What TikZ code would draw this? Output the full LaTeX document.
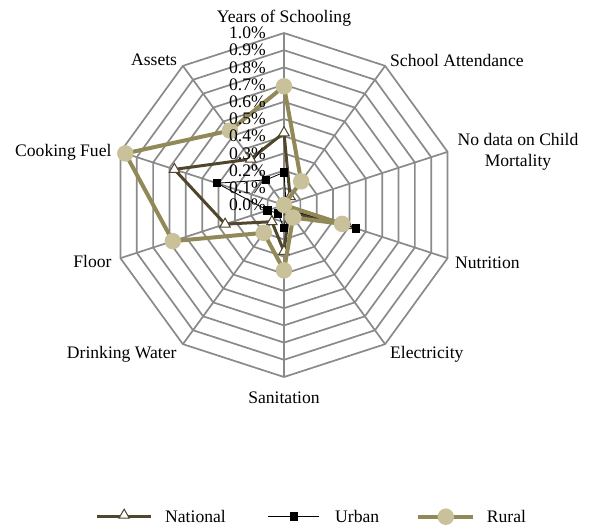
\documentclass[tikz,border=0pt]{standalone}
\usepackage{fontspec}
\setmainfont{Liberation Serif}
\usetikzlibrary{calc}
\usetikzlibrary{positioning}
\usetikzlibrary{shapes.geometric}
\definecolor{gridgray}{RGB}{138,138,138}
\definecolor{natcol}{RGB}{80,70,44}
\definecolor{rurcol}{RGB}{146,137,88}
\definecolor{rurfill}{RGB}{201,193,153}

\begin{document}
\begin{tikzpicture}[x=1pt, y=1pt, font=\fontsize{17.6}{20.5}\selectfont,
	gridline/.style={draw=gridgray, line width=1.7pt},
	natline/.style={draw=natcol, line width=3pt, line join=round},
	urbline/.style={draw=black, line width=0.8pt},
	rurline/.style={draw=rurcol, line width=4pt, line join=round},
	natmark/.style={regular polygon, regular polygon sides=3, draw=natcol, fill=white, line width=1pt, inner sep=0pt, minimum size=12pt},
	urbmark/.style={rectangle, fill=black, inner sep=0pt, minimum size=8.5pt},
	rurmark/.style={circle, fill=rurfill, inner sep=0pt, minimum size=16.5pt},
	lbl/.style={inner sep=0pt}]
	\useasboundingbox (-284,-323) rectangle (310,205);
	% web
	\coordinate (O) at (0,0);
	\foreach \k in {0,...,9}
		\coordinate (v\k) at ({90-36*\k}:172);
	\foreach \r in {1,...,10}
		\draw[gridline] (90:17.2*\r) \foreach \k in {1,...,9} { -- ({90-36*\k}:17.2*\r) } -- cycle;
	\foreach \k in {0,...,9}
		\draw[gridline] (O) -- (v\k);
	% axis names
	\node[lbl, anchor=base] (ys) at (0,183) {Years of Schooling};
	\node[lbl, anchor=base west] (sa) at (106,139) {School Attendance};
	\node[lbl, align=center] (cm) at (234,53) {No data on Child\\Mortality};
	\node[lbl, anchor=base west] (nu) at (171,-63.3) {Nutrition};
	\node[lbl, anchor=base west] (el) at (106,-153.3) {Electricity};
	\node[lbl, anchor=base] (sn) at (0,-198.3) {Sanitation};
	\node[lbl, anchor=base east] (dw) at (-107.3,-153.3) {Drinking Water};
	\node[lbl, anchor=base east] (fl) at (-172.3,-62.3) {Floor};
	\node[lbl, anchor=base east] (cf) at (-172.3,49) {Cooking Fuel};
	\node[lbl, anchor=base east] (as) at (-106.7,140) {Assets};
	% series
	\foreach \v [count=\k from 0] in {0.42,0.06,0,0.39,0.05,0.27,0.12,0.36,0.67,0.33}
		\coordinate (nat-\k) at ({90-36*\k}:{\v*172});
	\foreach \v [count=\k from 0] in {0.19,0.02,0,0.44,0.03,0.135,0.06,0.1,0.41,0.18}
		\coordinate (urb-\k) at ({90-36*\k}:{\v*172});
	\foreach \v [count=\k from 0] in {0.69,0.17,0,0.355,0.09,0.38,0.2,0.68,0.97,0.535}
		\coordinate (rur-\k) at ({90-36*\k}:{\v*172});
	\draw[natline] (nat-0) \foreach \k in {1,...,9} { -- (nat-\k) } -- cycle;
	\foreach \k in {0,...,9}
		\node[natmark] (natm-\k) at (nat-\k) {};
	\draw[urbline] (urb-0) \foreach \k in {1,...,9} { -- (urb-\k) } -- cycle;
	\foreach \k in {0,...,9}
		\node[urbmark] (urbm-\k) at (urb-\k) {};
	\draw[rurline] (rur-0) \foreach \k in {1,...,9} { -- (rur-\k) } -- cycle;
	\foreach \k in {0,...,9}
		\node[rurmark] (rurm-\k) at (rur-\k) {};
	% scale
	\foreach \i/\t in {0/0.0,1/0.1,2/0.2,3/0.3,4/0.4,5/0.5,6/0.6,7/0.7,8/0.8,9/0.9,10/1.0}
		\node[lbl, anchor=east] (pct\i) at (-18,17.2*\i) {\t\%};
	% legend
	\coordinate (natl) at (-186.7,-311.7);
	\coordinate (natr) at (-133,-311.7);
	\coordinate (urbl) at (-15.7,-311.7);
	\coordinate (urbr) at (35.3,-311.7);
	\coordinate (rurl) at (134.3,-311.7);
	\coordinate (rurr) at (189.3,-311.7);
	\draw[natline] (natl) -- (natr);
	\node[natmark] (natkey) at ($(natl)!0.5!(natr)+(0,1.5)$) {};
	\node[lbl, right=14pt of natr] (natname) {National};
	\draw[urbline] (urbl) -- (urbr);
	\node[urbmark] (urbkey) at ($(urbl)!0.5!(urbr)$) {};
	\node[lbl, right=15.7pt of urbr] (urbname) {Urban};
	\draw[rurline] (rurl) -- (rurr);
	\node[rurmark] (rurkey) at ($(rurl)!0.5!(rurr)$) {};
	\node[lbl, right=13.4pt of rurr] (rurname) {Rural};
\end{tikzpicture}
\end{document}
